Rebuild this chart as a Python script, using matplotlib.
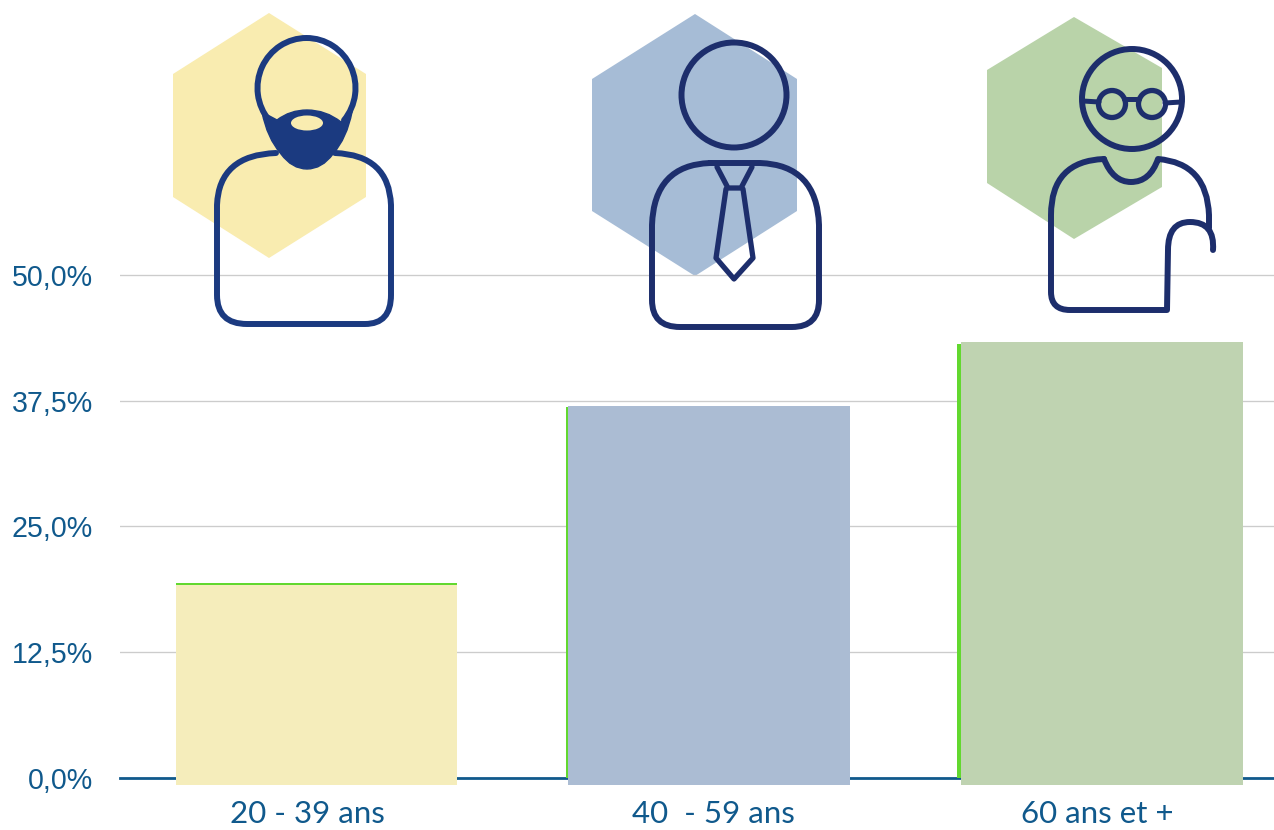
import matplotlib
matplotlib.use("Agg")
import matplotlib.pyplot as plt
from matplotlib.patches import Polygon, PathPatch, Circle, Ellipse
from matplotlib.path import Path
from matplotlib.transforms import Affine2D

categories = ["20 - 39 ans", "40  - 59 ans", "60 ans et +"]
values = [19.2, 37.0, 43.3]
outline_values = [19.4, 36.9, 43.1]
ticks = [0, 12.5, 25, 37.5, 50]
tick_labels = ["0,0%", "12,5%", "25,0%", "37,5%", "50,0%"]
bar_colors = ["#f5edbb", "#abbcd3", "#bfd3b1"]
green = "#62d82f"
blue = "#10598c"
W, H = 1274, 830
PX_PER_PCT = 10.065
BASE_Y = 778

fig = plt.figure(figsize=(12.74, 8.30), dpi=100, facecolor="white")
ax = fig.add_axes([120 / W, (H - BASE_Y) / H, (W - 120) / W, BASE_Y / H])
ax.set_ylim(0, BASE_Y / PX_PER_PCT)
spacing = 392.75
ax.set_xlim((120 - 317) / spacing, (W - 317) / spacing)
for s in ax.spines.values():
    s.set_visible(False)
ax.patch.set_alpha(0)
ax.set_axisbelow(True)
ax.yaxis.grid(True, color="#cccccc", lw=0.95)
ax.set_yticks(ticks)
ax.set_yticklabels(tick_labels, family="Liberation Sans", fontsize=20.6, color=blue,
                   va="center_baseline")
ax.tick_params(axis="y", length=0, pad=19.5)
ax.set_xticks(range(3))
ax.set_xticklabels([])
ax.tick_params(axis="x", length=0)
ax.axhline(0, color=blue, lw=2.0, clip_on=False, zorder=2)

# green bars peeking out behind the pastel bars
green_left = [175.5, 566, 956.5]
pastel_left = [175.5, 568, 961]
pastel_width = 281.7
label_shift = [-9.5, 4, -5]
for i in range(3):
    gx = (green_left[i] - 317) / spacing
    px = (pastel_left[i] - 317) / spacing
    ax.bar(gx, outline_values[i], width=pastel_width / spacing, align="edge",
           color=green, lw=0, zorder=3)
    ax.bar(px, values[i] + 0.7, bottom=-0.7, width=pastel_width / spacing, align="edge",
           color=bar_colors[i], lw=0, zorder=4, clip_on=False)
    ax.text(i + label_shift[i] / spacing, -3.62, categories[i],
            ha="center", va="center", family="Lato", fontsize=22.5,
            color=blue, clip_on=False)

# decorative icons, drawn in image pixel space
ov = fig.add_axes([0, 0, 1, 1])
ov.set_xlim(0, W)
ov.set_ylim(H, 0)
ov.axis("off")
ov.patch.set_alpha(0)

ax.set_zorder(2)
ov.set_zorder(3)

NAVY1, NAVY2 = "#1b3a80", "#1d2e6c"
LW = 4.3

def hexagon(pts, c):
    bg.add_patch(Polygon(pts, closed=True, fc=c, ec="none"))

def bez(points, color, lw=LW, fc="none", closed=False):
    verts = [points[0]]
    codes = [Path.MOVETO]
    for seg in points[1:]:
        if len(seg) == 2 and not isinstance(seg[0], tuple):
            verts.append(seg); codes.append(Path.LINETO)
        else:
            verts.extend(seg); codes.extend([Path.CURVE3, Path.CURVE3])
    if closed:
        verts.append(points[0]); codes.append(Path.CLOSEPOLY)
    ov.add_patch(PathPatch(Path(verts, codes), fc=fc, ec=color, lw=lw,
                           capstyle="round", joinstyle="round"))

# hexagons sit below the main axes
bg = fig.add_axes([0, 0, 1, 1])
bg.set_xlim(0, W)
bg.set_ylim(H, 0)
bg.axis("off")
bg.set_zorder(1)
hexagon([(269, 13), (366, 74), (366, 197), (269, 258), (173, 197), (173, 74)], "#f9ecb0")
hexagon([(695, 14), (797, 79), (797, 211), (695, 276), (592, 211), (592, 79)], "#a6bcd6")
hexagon([(1074, 17), (1162, 68), (1162, 187), (1074, 239), (987, 183), (987, 70)], "#b9d3a9")

# icon 1: bearded man
head = Path.arc(140, 400).transformed(Affine2D().scale(49, 50).translate(306.5, 88))
ov.add_patch(PathPatch(head, fc="none", ec=NAVY1, lw=LW, capstyle="round"))
bez([(262, 112), (277, 120), ((290, 110), (307, 110)), ((326, 110), (341, 122)), (352, 112),
     ((347, 138), (333, 154)), ((322, 169), (307, 169)), ((292, 169), (281, 154)),
     ((267, 138), (262, 112))], NAVY1, lw=1.0, fc=NAVY1, closed=True)
ov.add_patch(Ellipse((307, 123), 32, 15, fc="#f9ecb0", ec="none"))
bez([(276, 153), ((219, 155), (217, 205)), (217, 295), ((217, 324), (247, 324)),
     (365, 324), ((391, 324), (391, 295)), (391, 205), ((389, 155), (335, 153))], NAVY1)

# icon 2: man with a tie
ov.add_patch(Circle((734, 95), 52.5, fc="none", ec=NAVY2, lw=LW))
bez([(710, 163), (760, 163), ((817, 165), (819, 225)), (819, 300), ((819, 327), (792, 327)),
     (680, 327), ((652, 327), (652, 300)), (652, 225), ((654, 165), (710, 163))], NAVY2)
bez([(717, 167), (728, 188), (741, 188), (752, 167)], NAVY2, lw=3.8)
bez([(726, 189), (716, 258), (734, 279), (753, 258), (743, 189)], NAVY2, lw=3.8)

# icon 3: older man with glasses
ov.add_patch(Circle((1132, 99), 50, fc="none", ec=NAVY2, lw=LW))
ov.add_patch(Circle((1112, 104), 13.5, fc="none", ec=NAVY2, lw=3.8))
ov.add_patch(Circle((1152, 104), 13.5, fc="none", ec=NAVY2, lw=3.8))
bez([(1124, 99), (1139, 99)], NAVY2, lw=3.6)
bez([(1083, 101), (1099, 102)], NAVY2, lw=3.6)
bez([(1165, 103), (1181, 102)], NAVY2, lw=3.6)
bez([(1104, 159), ((1113, 182), (1131, 182)), ((1150, 182), (1158, 159)),
     ((1207, 163), (1209, 215)), (1209, 228)], NAVY2)
bez([(1213, 250), ((1215, 222), (1190, 222)), ((1168, 222), (1168, 250)), (1167, 310),
     (1070, 310), ((1051, 310), (1051, 292)), (1051, 215), ((1051, 161), (1104, 159))], NAVY2)

fig.savefig("out.png", dpi=100, facecolor="white")
